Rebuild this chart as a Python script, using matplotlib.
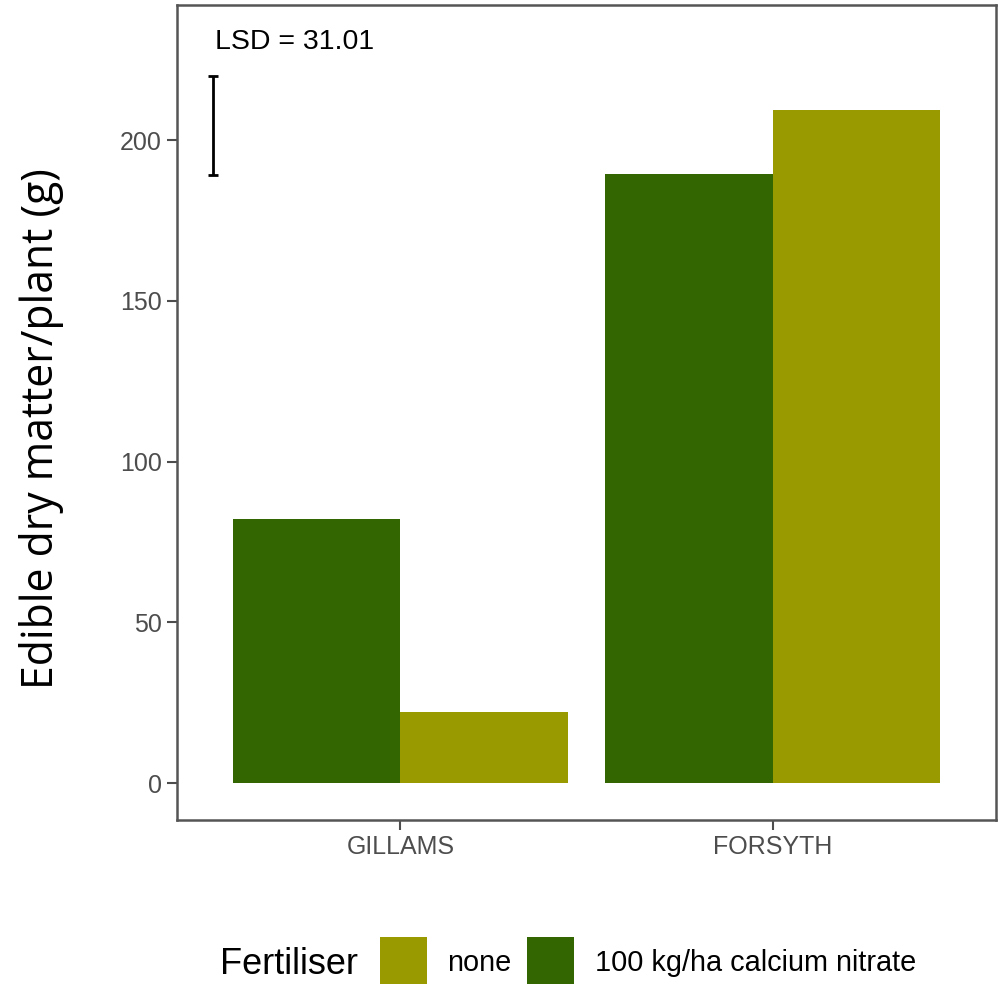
import matplotlib
matplotlib.use("Agg")
import matplotlib.pyplot as plt
from matplotlib.patches import Rectangle
import numpy as np

sites = ["GILLAMS", "FORSYTH"]
fert_levels = ["100 kg/ha calcium nitrate", "none"]
values_calcium = [82.0, 189.5]
values_none = [22.2, 209.2]
legend_order = ["none", "100 kg/ha calcium nitrate"]
colors = {"none": "#999900", "100 kg/ha calcium nitrate": "#336600"}
lsd_value = 31.01
lsd_low, lsd_high = 189.0, 220.0
yticks = [0, 50, 100, 150, 200]

fig = plt.figure(figsize=(9.98, 9.84), dpi=100)
ax = fig.add_axes([177/998, 1-820/984, (996-177)/998, (820-5)/984])

x = np.arange(1, len(sites)+1)
w = 0.45
ax.bar(x - w/2, values_calcium, width=w, color=colors[fert_levels[0]], linewidth=0)
ax.bar(x + w/2, values_none, width=w, color=colors[fert_levels[1]], linewidth=0)

ax.errorbar([0.496], [(lsd_low+lsd_high)/2], yerr=[[ (lsd_high-lsd_low)/2 ], [(lsd_high-lsd_low)/2]],
            fmt="none", ecolor="black", elinewidth=2, capsize=3.5, capthick=2)
ax.text(0.502, 230.5, f"LSD = {lsd_value:.2f}", ha="left", va="center", fontsize=20.5,
        family="Liberation Sans", color="black")

ax.set_xlim(0.4, 2.6)
ax.set_ylim(-11.5, 242)
ax.set_xticks(x)
ax.set_xticklabels(sites)
ax.set_yticks(yticks)
for lab in ax.get_xticklabels() + ax.get_yticklabels():
    lab.set_family("Liberation Sans")
    lab.set_fontsize(18)
    lab.set_color("#4d4d4d")
ax.tick_params(axis="both", length=7, width=1.5, color="#4d4d4d", pad=4)
for s in ax.spines.values():
    s.set_color("#555555")
    s.set_linewidth(1.8)

fig.text(42/998, 1-429/984, "Edible dry matter/plant (g)", rotation=90, ha="center", va="center",
         fontsize=30.8, family="Open Sans", color="black")

# legend
fig.text(220/998, 1-965/984, "Fertiliser", ha="left", va="center", fontsize=26,
         family="Liberation Sans", color="black")
key_x = [380, 527]
lab_x = [447, 595]
for kx, lx, lab in zip(key_x, lab_x, legend_order):
    fig.patches.append(Rectangle((kx/998, 0), 47/998, 47/984, transform=fig.transFigure,
                                 facecolor=colors[lab], edgecolor="none"))
    fig.text(lx/998, 1-963/984, lab, ha="left", va="center", fontsize=20.8,
             family="Liberation Sans", color="black")

fig.savefig("out.png", dpi=100)
